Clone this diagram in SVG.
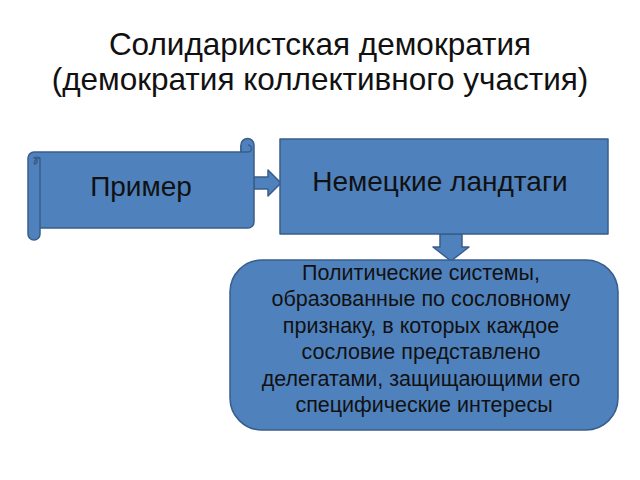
<svg xmlns="http://www.w3.org/2000/svg" width="640" height="480" viewBox="0 0 640 480">
<style>
.s{fill:#4F81BD;stroke:#385D8A;stroke-width:1.5;stroke-linejoin:round}
.t{font-family:"Liberation Sans",Arial,sans-serif;fill:#111;text-anchor:middle}
</style>
<rect width="640" height="480" fill="#fff"/>
<g id="title">
<text class="t" x="320" y="55" font-size="31.5" fill="#222">Солидаристская демократия</text>
<text class="t" x="320" y="90" font-size="31.5" fill="#222">(демократия коллективного участия)</text>
</g>
<g id="connectors">
<path class="s" d="M254,177 H268 V170 L281,183 L268,196 V189 H254 Z"/>
<path class="s" d="M440,234 H462 V247 H469 L451,261 L433,247 H440 Z"/>
</g>
<g id="scroll">
<path class="s" d="M34,152 H241 V145 A6.5,6.5 0 0 1 254,145 V222 A6,6 0 0 1 248,228 H40 V234 A6,6 0 0 1 28,234 V158 A6,6 0 0 1 34,152 Z"/>
<path class="s" fill="none" d="M241,145 V152 H248 A3.5,3.5 0 0 0 248,145"/>
<path class="s" fill="none" d="M40,158 V228 M34,164 A3,3 0 0 0 34,158 A6,6 0 0 1 40,158 M34,164 A6,6 0 0 1 40,158"/>
<text class="t" x="141" y="196" font-size="28">Пример</text>
</g>
<g id="landtag">
<rect class="s" x="280" y="139" width="328" height="95"/>
<text class="t" x="440" y="191" font-size="28">Немецкие ландтаги</text>
</g>
<g id="definition">
<rect class="s" x="230" y="260" width="388" height="170" rx="32"/>
<text class="t" font-size="21.5">
<tspan x="424" y="280">Политические системы,</tspan>
<tspan x="424" y="306">образованные по сословному</tspan>
<tspan x="424" y="333">признаку, в которых каждое</tspan>
<tspan x="424" y="359">сословие представлено</tspan>
<tspan x="424" y="386">делегатами, защищающими его</tspan>
<tspan x="424" y="412">специфические интересы</tspan>
</text>
</g>
</svg>
